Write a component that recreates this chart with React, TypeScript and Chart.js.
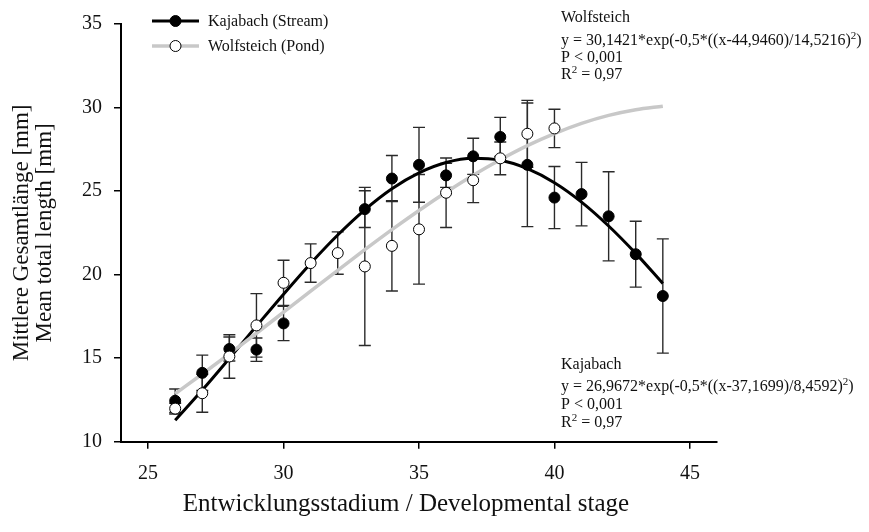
import React, { useEffect, useRef } from "react";
import { Chart, registerables } from "chart.js";

Chart.register(...registerables);

// ---- data ----
const kajabachStages = [26, 27, 28, 29, 30, 33, 34, 35, 36, 37, 38, 39, 40, 41, 42, 43, 44];
const kajabachMeans = [12.45, 14.12, 15.55, 15.51, 17.08, 23.92, 25.75, 26.57, 25.94, 27.08, 28.24, 26.57, 24.61, 24.82, 23.49, 21.22, 18.72];
const kajabachErrors = [0.7, 1.06, 0.72, 0.7, 1.03, 1.1, 1.38, 2.24, 0.72, 1.08, 1.17, 3.7, 1.86, 1.9, 2.67, 1.97, 3.42];

const wolfsteichStages = [26, 27, 28, 29, 30, 31, 32, 33, 34, 35, 36, 37, 38, 39, 40];
const wolfsteichMeans = [11.98, 12.9, 15.1, 16.96, 19.51, 20.69, 21.29, 20.49, 21.72, 22.71, 24.9, 25.65, 26.96, 28.43, 28.75];
const wolfsteichErrors = [0.32, 1.14, 1.3, 1.9, 1.35, 1.15, 1.27, 4.73, 2.7, 3.28, 2.08, 1.34, 0.98, 2.0, 1.15];

// fitted curves as drawn (values at each stage)
const fitStages = [26, 27, 28, 29, 30, 31, 32, 33, 34, 35, 36, 37, 38, 39, 40, 41, 42, 43, 44];
const kajabachFit = [11.28, 13.09, 14.99, 16.92, 18.83, 20.67, 22.37, 23.88, 25.14, 26.09, 26.71, 26.96, 26.84, 26.34, 25.5, 24.34, 22.91, 21.27, 19.47];
const wolfsteichFit = [12.87, 14.05, 15.26, 16.49, 17.75, 19.01, 20.26, 21.49, 22.69, 23.84, 24.93, 25.95, 26.88, 27.72, 28.44, 29.05, 29.53, 29.87, 30.08];

const xTicks = [25, 30, 35, 40, 45];
const yTicks = [10, 15, 20, 25, 30, 35];

const legendLabels = ["Kajabach (Stream)", "Wolfsteich (Pond)"];
const xTitle = "Entwicklungsstadium / Developmental stage";
const yTitle = ["Mittlere Gesamtlänge [mm]", "Mean total length [mm]"];

type Seg = { t: string; sup?: boolean };
const wolfsteichNote: Seg[][] = [
  [{ t: "Wolfsteich" }],
  [{ t: "y = 30,1421*exp(-0,5*((x-44,9460)/14,5216)" }, { t: "2", sup: true }, { t: ")" }],
  [{ t: "P < 0,001" }],
  [{ t: "R" }, { t: "2", sup: true }, { t: " = 0,97" }],
];
const kajabachNote: Seg[][] = [
  [{ t: "Kajabach" }],
  [{ t: "y = 26,9672*exp(-0,5*((x-37,1699)/8,4592)" }, { t: "2", sup: true }, { t: ")" }],
  [{ t: "P < 0,001" }],
  [{ t: "R" }, { t: "2", sup: true }, { t: " = 0,97" }],
];

const FONT = "'Liberation Serif', 'Times New Roman', serif";
const TEXT = "#111";

const errorBarPlugin = {
  id: "errorBars",
  beforeDatasetsDraw(chart: any) {
    const ctx = chart.ctx;
    const xs = chart.scales.x;
    const ys = chart.scales.y;
    ctx.save();
    ctx.beginPath();
    ctx.rect(chart.chartArea.left, chart.chartArea.top, chart.chartArea.right - chart.chartArea.left, chart.chartArea.bottom - chart.chartArea.top);
    ctx.clip();
    ctx.strokeStyle = "#2a2a2a";
    ctx.lineWidth = 1.4;
    const sets = [
      { st: kajabachStages, m: kajabachMeans, e: kajabachErrors },
      { st: wolfsteichStages, m: wolfsteichMeans, e: wolfsteichErrors },
    ];
    for (const s of sets) {
      s.st.forEach((stage, i) => {
        const px = xs.getPixelForValue(stage);
        const top = ys.getPixelForValue(s.m[i] + s.e[i]);
        const bot = ys.getPixelForValue(s.m[i] - s.e[i]);
        ctx.beginPath();
        ctx.moveTo(px, top);
        ctx.lineTo(px, bot);
        ctx.moveTo(px - 6, top);
        ctx.lineTo(px + 6, top);
        ctx.moveTo(px - 6, bot);
        ctx.lineTo(px + 6, bot);
        ctx.stroke();
      });
    }
    ctx.restore();
  },
};

function drawNote(ctx: CanvasRenderingContext2D, lines: Seg[][], x: number, baselines: number[]) {
  lines.forEach((line, li) => {
    let cx = x;
    line.forEach((seg) => {
      if (seg.sup) {
        ctx.font = `11px ${FONT}`;
        ctx.fillText(seg.t, cx, baselines[li] - 6.5);
      } else {
        ctx.font = `16px ${FONT}`;
        ctx.fillText(seg.t, cx, baselines[li]);
      }
      cx += ctx.measureText(seg.t).width;
    });
  });
}

const overlayPlugin = {
  id: "overlay",
  afterDraw(chart: any) {
    const ctx: CanvasRenderingContext2D = chart.ctx;
    ctx.save();
    // legend
    const rows = [
      { y: 21, color: "#000", lw: 3, fill: "#000", label: legendLabels[0] },
      { y: 46, color: "#c8c8c8", lw: 3.5, fill: "#fff", label: legendLabels[1] },
    ];
    rows.forEach((r) => {
      ctx.strokeStyle = r.color;
      ctx.lineWidth = r.lw;
      ctx.beginPath();
      ctx.moveTo(152, r.y);
      ctx.lineTo(199, r.y);
      ctx.stroke();
      ctx.beginPath();
      ctx.arc(175.5, r.y, 5.5, 0, Math.PI * 2);
      ctx.fillStyle = r.fill;
      ctx.fill();
      ctx.strokeStyle = "#000";
      ctx.lineWidth = 1;
      ctx.stroke();
      ctx.fillStyle = TEXT;
      ctx.font = `16px ${FONT}`;
      ctx.textBaseline = "middle";
      ctx.textAlign = "left";
      ctx.fillText(r.label, 208, r.y + 1);
    });
    // x-axis title
    ctx.font = `25px ${FONT}`;
    ctx.textAlign = "center";
    ctx.textBaseline = "middle";
    ctx.fillStyle = TEXT;
    ctx.fillText(xTitle, 406, 504);
    // annotations
    ctx.textBaseline = "alphabetic";
    ctx.textAlign = "left";
    drawNote(ctx, wolfsteichNote, 561, [22, 45, 62, 79]);
    drawNote(ctx, kajabachNote, 561, [369, 391, 409, 427]);
    ctx.restore();
  },
};

export default function App() {
  const ref = useRef<HTMLCanvasElement | null>(null);
  useEffect(() => {
    if (!ref.current) return;
    const chart = new Chart(ref.current, {
      type: "line",
      data: {
        datasets: [
          {
            label: legendLabels[1] + " points",
            data: wolfsteichStages.map((s, i) => ({ x: s, y: wolfsteichMeans[i] })),
            showLine: false,
            pointRadius: 5.5,
            pointBackgroundColor: "#fff",
            pointBorderColor: "#000",
            pointBorderWidth: 1,
          },
          {
            label: legendLabels[0] + " points",
            data: kajabachStages.map((s, i) => ({ x: s, y: kajabachMeans[i] })),
            showLine: false,
            pointRadius: 5.5,
            pointBackgroundColor: "#000",
            pointBorderColor: "#000",
            pointBorderWidth: 1,
          },
          {
            label: legendLabels[1],
            data: fitStages.map((s, i) => ({ x: s, y: wolfsteichFit[i] })),
            borderColor: "#c8c8c8",
            borderWidth: 3.5,
            pointRadius: 0,
            cubicInterpolationMode: "monotone",
            fill: false,
          },
          {
            label: legendLabels[0],
            data: fitStages.map((s, i) => ({ x: s, y: kajabachFit[i] })),
            borderColor: "#000",
            borderWidth: 3,
            pointRadius: 0,
            cubicInterpolationMode: "monotone",
            fill: false,
          },
        ],
      },
      options: {
        animation: false,
        responsive: false,
        devicePixelRatio: 1,
        layout: { padding: { top: 14, right: 152, bottom: 0, left: 0 } },
        plugins: { legend: { display: false }, tooltip: { enabled: false } },
        scales: {
          x: {
            type: "linear",
            min: 24,
            max: 46,
            afterBuildTicks: (axis: any) => {
              axis.ticks = xTicks.map((v) => ({ value: v }));
            },
            afterFit: (scale: any) => {
              scale.height = 90.3;
            },
            ticks: { font: { family: FONT, size: 20 }, color: TEXT, padding: 13, maxRotation: 0, autoSkip: false },
            grid: { drawOnChartArea: false, drawTicks: true, tickLength: 7, color: "#000", lineWidth: 1.5 },
            border: { display: true, color: "#000", width: 2 },
            title: { display: false },
          },
          y: {
            type: "linear",
            min: 10,
            max: 35,
            afterBuildTicks: (axis: any) => {
              axis.ticks = yTicks.map((v) => ({ value: v }));
            },
            afterFit: (scale: any) => {
              scale.width = 121;
            },
            ticks: { font: { family: FONT, size: 20 }, color: TEXT, padding: 12, autoSkip: false },
            grid: { drawOnChartArea: false, drawTicks: true, tickLength: 7, color: "#000", lineWidth: 1.5 },
            border: { display: true, color: "#000", width: 2 },
            title: { display: true, text: yTitle, color: TEXT, font: { family: FONT, size: 23, lineHeight: 1.0 }, padding: { top: 10, bottom: 0 } },
          },
        },
      },
      plugins: [errorBarPlugin, overlayPlugin],
    } as any);
    return () => chart.destroy();
  }, []);
  return (
    <div style={{ position: "absolute", left: 0, top: 0, width: 869, height: 532, background: "#fff" }}>
      <canvas ref={ref} width={869} height={532} style={{ display: "block" }} />
    </div>
  );
}
